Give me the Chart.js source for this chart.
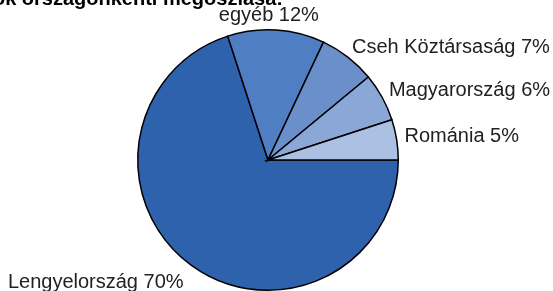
<!DOCTYPE html>
<html>
<head>
<meta charset="utf-8">
<script src="https://cdn.jsdelivr.net/npm/chart.js@4"></script>
<style>
  html, body { margin: 0; padding: 0; background: #fff; }
  #wrap { width: 553px; height: 291px; position: relative; }
</style>
</head>
<body>
<div id="wrap"><canvas id="myChart" width="553" height="291"></canvas></div>
<script>
// data
let countries = ['Lengyelország', 'egyéb', 'Cseh Köztársaság', 'Magyarország', 'Románia'];
let shares = [70, 12, 7, 6, 5];
let sliceColors = ['#2e62ac', '#4f7ec2', '#6a8fcb', '#8aa7d8', '#abc0e3'];
let titleText = 'A beruházások országonkénti megoszlása:';

// labels outside slices
const outsideLabels = {
  id: 'outsideLabels',
  afterDraw(chart) {
    const ctx = chart.ctx;
    const meta = chart.getDatasetMeta(0);
    ctx.save();
    ctx.font = '20px "Liberation Sans", Arial, sans-serif';
    ctx.fillStyle = '#222';
    ctx.textBaseline = 'middle';
    meta.data.forEach((arc, i) => {
      const p = arc.getProps(['x', 'y', 'startAngle', 'endAngle', 'outerRadius'], true);
      const mid = (p.startAngle + p.endAngle) / 2;
      const r = p.outerRadius + 10;
      let x = p.x + Math.cos(mid) * r;
      let y = p.y + Math.sin(mid) * r;
      const c = Math.cos(mid);
      if (c > 0.3) {
        ctx.textAlign = 'left';
        x -= 2; y -= 2;
      } else if (c < -0.3) {
        ctx.textAlign = 'right';
        x -= 2; y += 9;
      } else {
        ctx.textAlign = 'center';
        x -= 8; y -= 5;
      }
      ctx.fillText(countries[i] + ' ' + shares[i] + '%', x, y);
    });
    // title, cut at the top
    ctx.font = 'bold 20px "Liberation Sans", Arial, sans-serif';
    ctx.fillStyle = '#000';
    ctx.textAlign = 'right';
    ctx.textBaseline = 'alphabetic';
    ctx.fillText(titleText, 283, 5);
    ctx.restore();
  }
};

const config = {
  type: 'pie',
  data: {
    labels: countries,
    datasets: [{
      data: shares,
      backgroundColor: sliceColors,
      borderColor: '#000',
      borderWidth: 1.5,
      borderJoinStyle: 'miter'
    }]
  },
  options: {
    responsive: false,
    animation: false,
    rotation: 90,
    layout: {
      padding: { left: 136, right: 153, top: 29, bottom: -2 }
    },
    plugins: {
      legend: { display: false },
      tooltip: { enabled: false }
    }
  },
  plugins: [outsideLabels]
};

const myChart = new Chart(document.getElementById('myChart'), config);
</script>
</body>
</html>
